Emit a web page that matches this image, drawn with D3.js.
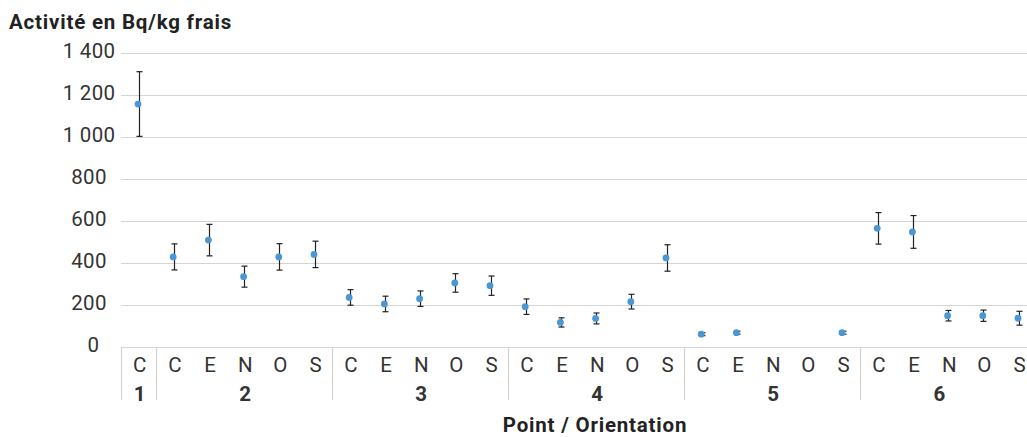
<!DOCTYPE html>
<html><head><meta charset="utf-8">
<script src="https://cdn.jsdelivr.net/npm/d3@7"></script>
<style>
html,body{margin:0;padding:0;background:#fff;}
svg{display:block;font-family:Roboto,"Open Sans",sans-serif;}
</style></head>
<body>
<svg id="c" width="1027" height="437"></svg>
<script>
const groupLabels = ["1","2","2","2","2","2","3","3","3","3","3","4","4","4","4","4","5","5","5","5","5","6","6","6","6","6"];
const orientLabels = ["C","C","E","N","O","S","C","E","N","O","S","C","E","N","O","S","C","E","N","O","S","C","E","N","O","S"];
const values = [1157,429,509,335,429,441,236,205,230,305,292,192,117,136,216,424,61,68,null,null,68,565,548,149,149,137];
const errors = [154,62,75,50,63,63,37,37,37,44,46,37,22,26,35,63,7,7,null,null,7,75,78,25,27,33];
const yTicks = [0,200,400,600,800,1000,1200,1400];
const yTitle = "Activité en Bq/kg frais";
const xTitle = "Point / Orientation";

const svg = d3.select("#c");
const keys = orientLabels.map((o,i)=>i);
const left = 121, step = 35.2;
const x = d3.scaleBand().domain(keys).range([left, left + step*keys.length]).padding(0);
const y = d3.scaleLinear().domain([0,1400]).range([347,53]);
const fmt = d3.formatLocale({decimal:",", thousands:"\u00a0", grouping:[3], currency:["","€"]}).format(",d");
const FS = 20.5;

// gridlines
svg.append("g").selectAll("line").data(yTicks).join("line")
  .attr("x1", left).attr("x2", x.range()[1])
  .attr("y1", d=>Math.round(y(d))+0.5).attr("y2", d=>Math.round(y(d))+0.5)
  .attr("stroke", "#d4d4d4").attr("stroke-width", 1.2);

// y tick labels
svg.append("g").selectAll("text").data(yTicks).join("text")
  .attr("x", d => d===0 ? 93.5 : 89).attr("y", d=>y(d)-2)
  .attr("dy","0.35em").attr("text-anchor","middle")
  .attr("font-size", FS).attr("letter-spacing",0.3).attr("fill","#333")
  .text(d=>fmt(d));

// title
svg.append("text").attr("x",9).attr("y",28.5).attr("font-size",20.5).attr("font-weight","bold")
  .attr("letter-spacing",0.8).attr("fill","#222").text(yTitle);

// category separators (group boundaries)
const bounds = [];
keys.forEach((k,i)=>{ if(i===0 || groupLabels[i]!==groupLabels[i-1]) bounds.push(x(k)); });
bounds.push(x.range()[1]);
svg.append("g").selectAll("line").data(bounds).join("line")
  .attr("x1", d=>Math.round(d)+0.5).attr("x2", d=>Math.round(d)+0.5)
  .attr("y1", 347).attr("y2", 400)
  .attr("stroke", "#d4d4d4").attr("stroke-width", 1.2);

// orientation labels
svg.append("g").selectAll("text").data(keys).join("text")
  .attr("x", k=>x(k)+x.bandwidth()/2+1).attr("y", 371.5)
  .attr("text-anchor","middle").attr("font-size",FS).attr("fill","#333")
  .text(k=>orientLabels[k]);

// group labels
const groups = [];
keys.forEach((k,i)=>{
  const g = groupLabels[i];
  let last = groups[groups.length-1];
  if(!last || last.label!==g){ groups.push({label:g, x0:x(k), x1:x(k)+x.bandwidth()}); }
  else last.x1 = x(k)+x.bandwidth();
});
svg.append("g").selectAll("text").data(groups).join("text")
  .attr("x", g=> g.label==="6" ? (g.x0+ (x.bandwidth()*4.5+ g.x0))/2 : (g.x0+g.x1)/2 + 1).attr("y", 400.5)
  .attr("text-anchor","middle").attr("font-size",FS).attr("font-weight","bold").attr("fill","#333")
  .text(g=>g.label);

// x title
svg.append("text").attr("x",595).attr("y",431.5).attr("text-anchor","middle")
  .attr("font-size",20.5).attr("font-weight","bold").attr("letter-spacing",0.8).attr("fill","#222").text(xTitle);

// error bars and points
const pts = keys.filter(k=>values[k]!==null);
const px = k => x(k) + 16.5;
const eb = svg.append("g").attr("stroke","#222").attr("stroke-width",1.2);
pts.forEach(k=>{
  const cx = Math.round(px(k))+1.5;
  const hi = y(values[k]+errors[k]), lo = y(values[k]-errors[k]);
  eb.append("line").attr("x1",cx).attr("x2",cx).attr("y1",hi).attr("y2",lo);
  eb.append("line").attr("x1",cx-3).attr("x2",cx+3).attr("y1",hi).attr("y2",hi);
  eb.append("line").attr("x1",cx-3).attr("x2",cx+3).attr("y1",lo).attr("y2",lo);
});
svg.append("g").selectAll("circle").data(pts).join("circle")
  .attr("cx", k=>px(k)+0.5).attr("cy", k=>y(values[k])).attr("r",3.4)
  .attr("fill","#4a97d5");
</script>
</body></html>
